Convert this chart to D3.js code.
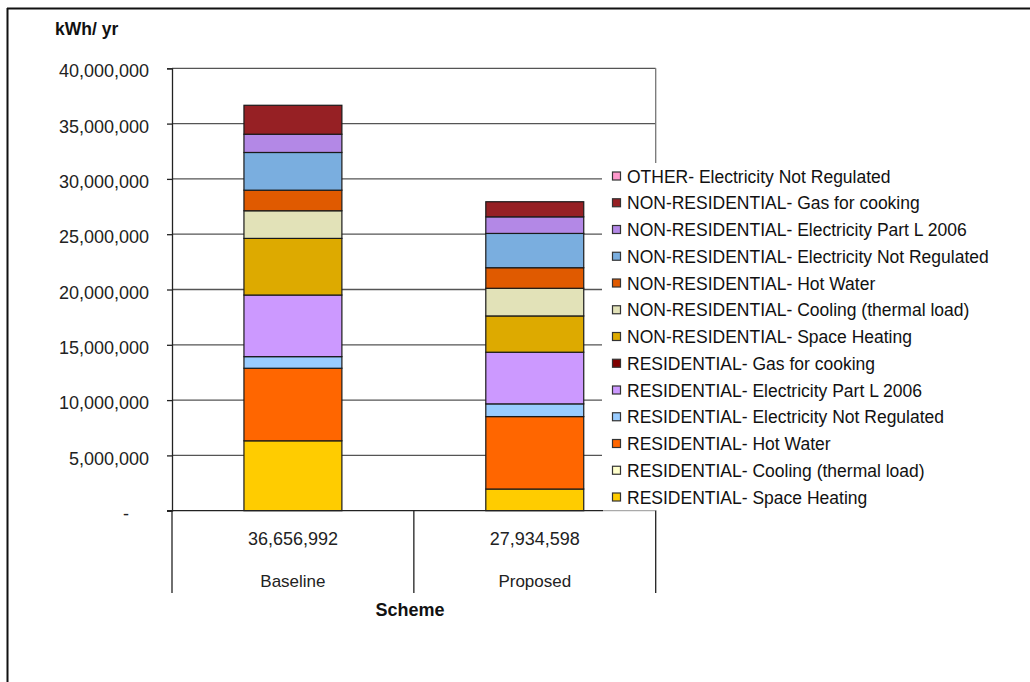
<!DOCTYPE html>
<html>
<head>
<meta charset="utf-8">
<script src="https://cdn.jsdelivr.net/npm/d3@7"></script>
<style>
  html, body { margin: 0; padding: 0; background: #fff; }
  svg { display: block; font-family: "Liberation Sans", Arial, sans-serif; }
</style>
</head>
<body>
<svg id="chart" width="1030" height="682"></svg>
<script>
// Energy demand by end use, stacked per scheme (kWh/yr)
const schemes = ["Baseline", "Proposed"];

// Stack order, bottom to top
const seriesNames = [
  "RESIDENTIAL- Space Heating",
  "RESIDENTIAL- Cooling (thermal load)",
  "RESIDENTIAL- Hot Water",
  "RESIDENTIAL- Electricity Not Regulated",
  "RESIDENTIAL- Electricity Part L 2006",
  "RESIDENTIAL- Gas for cooking",
  "NON-RESIDENTIAL- Space Heating",
  "NON-RESIDENTIAL- Cooling (thermal load)",
  "NON-RESIDENTIAL- Hot Water",
  "NON-RESIDENTIAL- Electricity Not Regulated",
  "NON-RESIDENTIAL- Electricity Part L 2006",
  "NON-RESIDENTIAL- Gas for cooking",
  "OTHER- Electricity Not Regulated"
];

const seriesColors = [
  "#FFCC00", "#FFFFCC", "#FF6600", "#99CCFF", "#CC99FF", "#800000",
  "#DDAA00", "#E2E2B8", "#E05A00", "#7AAEDF", "#B388E6", "#962024",
  "#FF99CC"
];

const baselineValues = [
  6320000, 0, 6560000, 1050000, 5570000, 0,
  5120000, 2500000, 1860000, 3410000, 1650000, 2616992, 0
];
const proposedValues = [
  1960000, 0, 6550000, 1150000, 4670000, 0,
  3280000, 2500000, 1860000, 3100000, 1500000, 1364598, 0
];

const yTicks = [0, 5000000, 10000000, 15000000, 20000000, 25000000, 30000000, 35000000, 40000000];

const yTitle = "kWh/ yr";
const xTitle = "Scheme";

// ---- build table for d3.stack ----
const valueLists = [baselineValues, proposedValues];
const rows = schemes.map((s, i) => {
  const r = { scheme: s };
  seriesNames.forEach((n, k) => { r[n] = valueLists[i][k]; });
  return r;
});
const totals = valueLists.map(v => d3.sum(v));

const svg = d3.select("#chart");
const textColor = "#222";

// outer frame
svg.append("line").attr("x1", 7).attr("x2", 1030).attr("y1", 8.5).attr("y2", 8.5)
  .attr("stroke", "#111").attr("stroke-width", 2);
svg.append("line").attr("x1", 7.5).attr("x2", 7.5).attr("y1", 8).attr("y2", 682)
  .attr("stroke", "#111").attr("stroke-width", 2);

const plot = { left: 172, right: 655.7, top: 68.3, bottom: 510.7 };

const y = d3.scaleLinear().domain([0, 40000000]).range([plot.bottom, plot.top]);
const x = d3.scaleBand().domain(schemes).range([plot.left, plot.right]).padding(0);
const barFrac = 0.405;
const barW = x.bandwidth() * barFrac;
const barX = s => x(s) + (x.bandwidth() - barW) / 2;

// gridlines
svg.append("g").selectAll("line").data(yTicks.filter(t => t > 0)).join("line")
  .attr("x1", plot.left).attr("x2", plot.right)
  .attr("y1", d => y(d)).attr("y2", d => y(d))
  .attr("stroke", "#555").attr("stroke-width", 1.3);

// plot area right edge
svg.append("line").attr("x1", plot.right).attr("x2", plot.right)
  .attr("y1", plot.top).attr("y2", plot.bottom)
  .attr("stroke", "#777").attr("stroke-width", 1.3);

// stacked bars
const stack = d3.stack().keys(seriesNames);
const layers = stack(rows);
const barG = svg.append("g");
layers.forEach((layer, k) => {
  barG.append("g").selectAll("rect")
    .data(layer.filter(d => d[1] - d[0] > 0))
    .join("rect")
    .attr("x", d => barX(d.data.scheme))
    .attr("width", barW)
    .attr("y", d => y(d[1]))
    .attr("height", d => y(d[0]) - y(d[1]))
    .attr("fill", seriesColors[k])
    .attr("stroke", "#1a1a1a")
    .attr("stroke-width", 1.2);
});

// y axis
const yAxis = d3.axisLeft(y)
  .tickValues(yTicks)
  .tickSize(5)
  .tickPadding(18)
  .tickFormat(d => d === 0 ? "-" : d3.format(",")(d));
const yg = svg.append("g").attr("transform", `translate(${plot.left},0)`).call(yAxis);
yg.select(".domain").attr("stroke", "#222").attr("stroke-width", 1.3);
yg.selectAll(".tick line").attr("stroke", "#222").attr("stroke-width", 1.3);
yg.selectAll(".tick text")
  .attr("font-size", 18).attr("fill", textColor)
  .attr("dy", "0.48em")
  .attr("font-family", "'Liberation Sans', Arial, sans-serif");
yg.selectAll(".tick text").filter(d => d === 0).attr("dx", -20);

// legend (drawn over the plot on a white panel)
const legend = svg.append("g");
legend.append("rect").attr("x", 602).attr("y", 163).attr("width", 400).attr("height", 347)
  .attr("fill", "#fff");
const legendOrder = seriesNames.map((n, k) => k).reverse();
const legendTop = 176, legendStep = 26.75;
const items = legend.selectAll("g.item").data(legendOrder).join("g")
  .attr("class", "item")
  .attr("transform", (k, i) => `translate(612,${legendTop + i * legendStep})`);
items.append("rect")
  .attr("x", 0.5).attr("y", -4).attr("width", 8).attr("height", 8)
  .attr("fill", k => seriesColors[k])
  .attr("stroke", "#333").attr("stroke-width", 1.2);
items.append("text")
  .attr("x", 15).attr("y", 0.5)
  .attr("dominant-baseline", "central")
  .attr("font-size", 17.5)
  .attr("fill", "#111")
  .text(k => seriesNames[k]);

// x axis baseline
svg.append("line").attr("x1", plot.left - 5).attr("x2", 603)
  .attr("y1", plot.bottom).attr("y2", plot.bottom)
  .attr("stroke", "#222").attr("stroke-width", 1.3);
svg.append("line").attr("x1", 603).attr("x2", plot.right)
  .attr("y1", plot.bottom).attr("y2", plot.bottom)
  .attr("stroke", "#aaa").attr("stroke-width", 1.3);

// category separators
const seps = schemes.map(s => x(s)).concat([x(schemes[schemes.length - 1]) + x.bandwidth()]);
svg.append("g").selectAll("line").data(seps).join("line")
  .attr("x1", d => d).attr("x2", d => d)
  .attr("y1", plot.bottom).attr("y2", 593)
  .attr("stroke", "#222").attr("stroke-width", 1.3);

// totals and category names
const cat = svg.append("g").attr("fill", textColor).attr("text-anchor", "middle");
cat.selectAll("text.total").data(schemes).join("text")
  .attr("class", "total")
  .attr("x", s => x(s) + x.bandwidth() / 2)
  .attr("y", 545)
  .attr("font-size", 18)
  .text((s, i) => d3.format(",")(totals[i]));
cat.selectAll("text.name").data(schemes).join("text")
  .attr("class", "name")
  .attr("x", s => x(s) + x.bandwidth() / 2)
  .attr("y", 586.5)
  .attr("font-size", 17)
  .text(s => s);

// axis titles
svg.append("text").attr("x", 410).attr("y", 615.5).attr("text-anchor", "middle")
  .attr("font-size", 18).attr("font-weight", "bold").attr("fill", "#111")
  .text(xTitle);
svg.append("text").attr("x", 55).attr("y", 35)
  .attr("font-size", 17.5).attr("font-weight", "bold").attr("fill", "#111")
  .text(yTitle);
</script>
</body>
</html>
